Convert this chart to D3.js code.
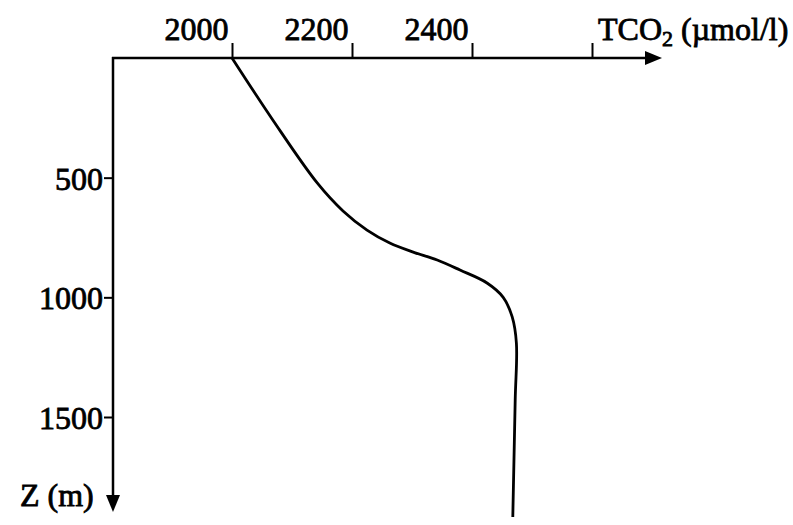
<!DOCTYPE html>
<html>
<head>
<meta charset="utf-8">
<script src="https://cdn.jsdelivr.net/npm/d3@7"></script>
<style>
  body { margin: 0; background: #fff; }
  svg text { font-family: "Liberation Serif", "Times New Roman", serif; fill: #000; stroke: #000; stroke-width: 0.8px; }
</style>
</head>
<body>
<figure id="profile" style="margin:0"></figure>
<script>
// TCO2 profile
const tco2 = [2000, 2068, 2142, 2185, 2225, 2263, 2302, 2342, 2380, 2425, 2452, 2467, 2474, 2472, 2468];
const depth = [0, 259, 522, 639, 719, 773, 811, 844, 886, 940, 1000, 1082, 1191, 1429, 1918];

const xTicks = [2000, 2200, 2400, 2600];
const xTickLabels = ['2000', '2200', '2400', ''];
const yTicks = [500, 1000, 1500];

const width = 793;
const height = 525;
const originX = 113;
const originY = 58;
const xEnd = 662;
const yEnd = 512;

const svg = d3.select('figure#profile')
  .append('svg')
  .attr('width', width)
  .attr('height', height);

const x = d3.scaleLinear()
  .domain([2000, 2600])
  .range([232, 592]);

const y = d3.scaleLinear()
  .domain([0, 1500])
  .range([originY, 417]);

// top axis
const xAxis = svg.append('g')
  .attr('transform', 'translate(0,' + originY + ')')
  .call(d3.axisTop(x)
    .tickValues(xTicks)
    .tickSize(15)
    .tickFormat((d, i) => xTickLabels[i]));
xAxis.select('.domain').remove();
xAxis.selectAll('line').attr('stroke', '#000').attr('stroke-width', 2);
xAxis.selectAll('text')
  .attr('font-size', 32)
  .attr('text-anchor', 'end')
  .attr('x', -4)
  .attr('y', -18)
  .attr('dy', 0);

// left axis
const yAxis = svg.append('g')
  .attr('transform', 'translate(' + originX + ',0)')
  .call(d3.axisLeft(y).tickValues(yTicks).tickSize(9).tickPadding(1).tickFormat(d3.format('d')));
yAxis.select('.domain').remove();
yAxis.selectAll('line').attr('stroke', '#000').attr('stroke-width', 2);
yAxis.selectAll('text')
  .attr('font-size', 32)
  .attr('dy', '0.36em');

// axis lines with arrowheads
svg.append('line')
  .attr('x1', originX - 1).attr('y1', originY)
  .attr('x2', xEnd - 12).attr('y2', originY)
  .attr('stroke', '#000').attr('stroke-width', 2.5);
svg.append('path')
  .attr('d', `M${xEnd},${originY} L${xEnd - 17},${originY - 7} L${xEnd - 17},${originY + 7} Z`)
  .attr('fill', '#000');

svg.append('line')
  .attr('x1', originX).attr('y1', originY - 1)
  .attr('x2', originX).attr('y2', yEnd - 12)
  .attr('stroke', '#000').attr('stroke-width', 2.5);
svg.append('path')
  .attr('d', `M${originX},${yEnd} L${originX - 7},${yEnd - 17} L${originX + 7},${yEnd - 17} Z`)
  .attr('fill', '#000');

// axis titles
const xTitle = svg.append('text')
  .attr('x', 598)
  .attr('y', 40)
  .attr('font-size', 32);
xTitle.append('tspan').text('TCO');
xTitle.append('tspan').attr('font-size', 22).attr('dy', 6).text('2');
xTitle.append('tspan').attr('dy', -6).text(' (\u00b5mol/l)');

svg.append('text')
  .attr('x', 20)
  .attr('y', 506)
  .attr('font-size', 32)
  .text('Z (m)');

// profile curve
const line = d3.line()
  .x(d => x(d[0]))
  .y(d => y(d[1]))
  .curve(d3.curveCatmullRom.alpha(0.5));

svg.append('path')
  .datum(d3.zip(tco2, depth))
  .attr('fill', 'none')
  .attr('stroke', '#000')
  .attr('stroke-width', 2.8)
  .attr('d', line);
</script>
</body>
</html>
